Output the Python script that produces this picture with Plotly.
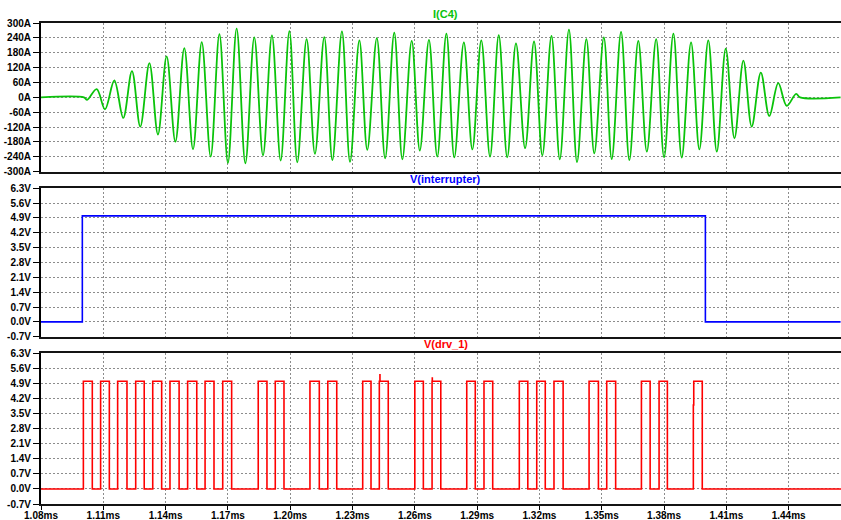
import plotly.graph_objects as go

# ---------------- data ----------------
# I(C4): extrema of the oscillation, time in ms, current in A
ic4_t = [1.0800, 1.1007, 1.1022, 1.1068, 1.1108, 1.1153, 1.1196, 1.1238, 1.1278, 1.1322,
         1.1363, 1.1405, 1.1447, 1.1490, 1.1532, 1.1574, 1.1617, 1.1659, 1.1700, 1.1742,
         1.1784, 1.1827, 1.1869, 1.1912, 1.1954, 1.1996, 1.2034, 1.2079, 1.2119, 1.2164,
         1.2203, 1.2249, 1.2288, 1.2333, 1.2371, 1.2417, 1.2457, 1.2501, 1.2540, 1.2585,
         1.2624, 1.2668, 1.2708, 1.2752, 1.2790, 1.2836, 1.2877, 1.2920, 1.2962, 1.3004,
         1.3045, 1.3087, 1.3131, 1.3174, 1.3214, 1.3258, 1.3298, 1.3342, 1.3381, 1.3426,
         1.3464, 1.3510, 1.3548, 1.3593, 1.3633, 1.3676, 1.3717, 1.3762, 1.3800, 1.3845,
         1.3885, 1.3930, 1.3970, 1.4013, 1.4054, 1.4097, 1.4139, 1.4182, 1.4222, 1.4266,
         1.4307, 1.4350, 1.4391, 1.4436, 1.4455, 1.4650]
ic4_a = [0, 0, -10, 33, -48, 68, -83, 106, -118, 138,
         -150, 165, -179, 199, -209, 223, -239, 255, -264, 277,
         -266, 242, -234, 250, -255, 267, -262, 235, -228, 243,
         -253, 266, -260, 230, -212, 239, -246, 261, -250, 228,
         -215, 232, -239, 257, -242, 222, -210, 230, -239, 251,
         -242, 218, -205, 226, -234, 248, -250, 273, -261, 235,
         -226, 242, -249, 264, -253, 228, -219, 235, -242, 257,
         -243, 222, -210, 230, -219, 196, -165, 148, -118, 100,
         -75, 57, -34, 14, 0, 0]

# V(interrupter): switching times (ms) and levels (V)
intr_t = [1.0800, 1.0999, 1.3999, 1.4650]
intr_v = [0.0, 5.0, 0.0, 0.0]

# V(drv_1): alternating rising / falling edges (ms)
drv_edges = [1.1004, 1.1047, 1.1087, 1.1129, 1.1169, 1.1214, 1.1256, 1.1297, 1.1338, 1.1381,
             1.1421, 1.1465, 1.1506, 1.1550, 1.1590, 1.1633, 1.1675, 1.1718, 1.1846, 1.1888,
             1.1928, 1.1970, 1.2095, 1.2140, 1.2181, 1.2224, 1.2349, 1.2389, 1.2429, 1.2472,
             1.2600, 1.2641, 1.2683, 1.2725, 1.2850, 1.2891, 1.2933, 1.2975, 1.3103, 1.3144,
             1.3187, 1.3228, 1.3270, 1.3314, 1.3439, 1.3484, 1.3524, 1.3567, 1.3691, 1.3733,
             1.3776, 1.3816, 1.3943, 1.3984]
drv_high = 5.0
# small glitches visible on the drive signal
drv_glitch_t = [1.24320, 1.24322, 1.26840, 1.26842, 1.39410]
drv_glitch_v = [5.3, 5.0, 5.15, 5.0, 3.9]

x_ticks = [1.08, 1.11, 1.14, 1.17, 1.20, 1.23, 1.26, 1.29, 1.32, 1.35, 1.38, 1.41, 1.44]
x_ticktext = ["1.08ms", "1.11ms", "1.14ms", "1.17ms", "1.20ms", "1.23ms", "1.26ms",
              "1.29ms", "1.32ms", "1.35ms", "1.38ms", "1.41ms", "1.44ms"]
i_ticks = [-300, -240, -180, -120, -60, 0, 60, 120, 180, 240, 300]
i_ticktext = ["-300A", "-240A", "-180A", "-120A", "-60A", "0A", "60A", "120A", "180A", "240A", "300A"]
v_ticks = [-0.7, 0.0, 0.7, 1.4, 2.1, 2.8, 3.5, 4.2, 4.9, 5.6, 6.3]
v_ticktext = ["-0.7V", "0.0V", "0.7V", "1.4V", "2.1V", "2.8V", "3.5V", "4.2V", "4.9V", "5.6V", "6.3V"]

titles = ["I(C4)", "V(interrupter)", "V(drv_1)"]
x_range = [1.08, 1.4652]
title_x = 1.275

# ---------------- build drive waveform from edges ----------------
pts = [(1.08, 0.0)]
for i, t in enumerate(drv_edges):
    pts.append((t, drv_high if i % 2 == 0 else 0.0))
pts.extend(zip(drv_glitch_t, drv_glitch_v))
pts.append((x_range[1], 0.0))
pts.sort(key=lambda p: p[0])
drv_t = [p[0] for p in pts]
drv_v = [p[1] for p in pts]

GREEN = "rgb(10,195,10)"
BLUE = "rgb(0,0,255)"
RED = "rgb(255,0,0)"
GRID = "rgb(140,140,140)"
FONT = "Liberation Sans, Arial, sans-serif"

fig = go.Figure()
fig.add_trace(go.Scatter(x=ic4_t, y=ic4_a, mode="lines", xaxis="x", yaxis="y",
                         line=dict(color=GREEN, width=1.8, shape="spline", smoothing=1.0),
                         showlegend=False, hoverinfo="skip"))
fig.add_trace(go.Scatter(x=intr_t, y=intr_v, mode="lines", xaxis="x2", yaxis="y2",
                         line=dict(color=BLUE, width=1.6, shape="hv"),
                         showlegend=False, hoverinfo="skip"))
fig.add_trace(go.Scatter(x=drv_t, y=drv_v, mode="lines", xaxis="x3", yaxis="y3",
                         line=dict(color=RED, width=1.6, shape="hv"),
                         showlegend=False, hoverinfo="skip"))

H = 520
top, bot = 23, 16
ph = H - top - bot
def dom(y_top_px, y_bot_px):
    return [(H - bot - y_bot_px) / ph, (H - bot - y_top_px) / ph]

doms = [dom(23.3, 171.7), dom(188.3, 336.7), dom(353.3, 504)]
doms[0][1] = 1.0
doms[2][0] = 0.0

tickfont = dict(family=FONT, size=10, color="black", weight="bold")

def xaxis(i):
    last = i == 3
    return dict(range=x_range, domain=[0, 1], anchor="y" if i == 1 else f"y{i}",
                tickvals=x_ticks, ticktext=x_ticktext, showticklabels=last,
                ticks="outside" if last else "", ticklen=4, tickcolor="black", tickwidth=1,
                ticklabelstandoff=-3,
                showgrid=True, gridcolor=GRID, griddash="2px,2px", gridwidth=1,
                showline=True, mirror=True, linecolor="rgb(20,20,20)", linewidth=2,
                zeroline=False, tickfont=tickfont, fixedrange=True, automargin=False)

def yaxis(i, rng, tv, tt):
    return dict(range=rng, domain=doms[i - 1], anchor="x" if i == 1 else f"x{i}",
                tickvals=tv, ticktext=tt, ticks="outside", ticklen=6, tickcolor="black",
                tickwidth=1, showgrid=True, gridcolor=GRID, griddash="2px,2px", gridwidth=1,
                showline=True, mirror=False, linecolor="black", linewidth=2,
                zeroline=False, tickfont=tickfont, fixedrange=True, automargin=False)

fig.update_layout(
    width=841, height=H,
    margin=dict(l=41, r=0, t=top, b=bot),
    paper_bgcolor="white", plot_bgcolor="white",
    xaxis=xaxis(1), xaxis2=xaxis(2), xaxis3=xaxis(3),
    yaxis=yaxis(1, [-300, 300], i_ticks, i_ticktext),
    yaxis2=yaxis(2, [-0.7, 6.3], v_ticks, v_ticktext),
    yaxis3=yaxis(3, [-0.7, 6.3], v_ticks, v_ticktext),
)

colors = [GREEN, BLUE, RED]
for k, (name, col) in enumerate(zip(titles, colors)):
    fig.add_annotation(x=title_x, xref="x" if k == 0 else f"x{k+1}",
                       y=doms[k][1], yref="paper", yanchor="bottom", yshift=1,
                       text=name, showarrow=False,
                       font=dict(family=FONT, size=11, color=col, weight="bold"))

fig.write_html("out.html", config={"displayModeBar": False},
               post_script="document.body.style.margin='0';document.body.style.overflow='hidden';")
